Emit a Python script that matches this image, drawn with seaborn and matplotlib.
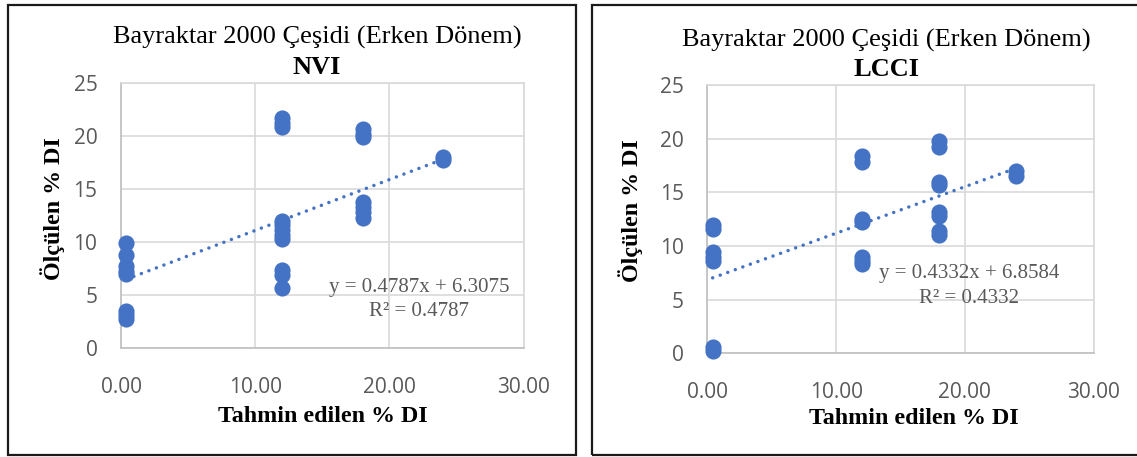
import matplotlib
matplotlib.use("Agg")
import matplotlib.pyplot as plt
import seaborn as sns
import pandas as pd
import numpy as np
from matplotlib.patches import Rectangle

# ---- data -------------------------------------------------------------
nvi_pred = [0.4] * 8 + [12] * 11 + [18] * 7 + [24] * 2
nvi_obs = [9.9, 8.8, 7.7, 7.3, 7.0, 3.5, 3.1, 2.8,
           21.7, 21.2, 20.8, 12.0, 11.6, 11.1, 10.7, 10.3, 7.4, 6.9, 5.7,
           20.6, 20.2, 19.9, 13.8, 13.3, 12.8, 12.3,
           18.0, 17.7]

lcci_pred = [0.4] * 7 + [12] * 7 + [18] * 8 + [24] * 2
lcci_obs = [12.0, 11.6, 9.4, 9.0, 8.6, 0.6, 0.2,
            18.4, 17.8, 12.5, 12.2, 9.0, 8.6, 8.3,
            19.8, 19.2, 16.0, 15.7, 13.2, 12.8, 11.4, 11.0,
            17.0, 16.5]

nvi_slope, nvi_intercept, nvi_r2 = 0.4787, 6.3075, 0.4787
lcci_slope, lcci_intercept, lcci_r2 = 0.4332, 6.8584, 0.4332

title_main = "Bayraktar 2000 Çeşidi (Erken Dönem)"
x_label = "Tahmin edilen % DI"
y_label = "Ölçülen % DI"
x_ticks = [0, 10, 20, 30]
y_ticks = [0, 5, 10, 15, 20, 25]

# ---- style ------------------------------------------------------------
sns.set_theme(style="white")
plt.rcParams["font.family"] = ["Liberation Serif", "DejaVu Serif"]

W, H = 1137, 457
BLUE = "#4472C4"
GRID = "#D9D9D9"
AXIS = "#BFBFBF"
TXT = "#595959"
SERIF = ["Liberation Serif", "DejaVu Serif"]
SANS = ["Open Sans", "DejaVu Sans"]

fig = plt.figure(figsize=(W / 100, H / 100), dpi=100)
fig.patch.set_facecolor("white")


def fx(px):
    return px / W


def fy(py):
    return 1 - py / H


def add_box(x0, y0, x1, y1):
    fig.patches.append(Rectangle((fx(x0), fy(y1)), fx(x1) - fx(x0), fy(y0) - fy(y1),
                                 transform=fig.transFigure, fill=False,
                                 edgecolor="#1a1a1a", linewidth=1.6, zorder=0))


def panel(rect_px, pred, obs, slope, intercept, r2, name, title_xy, xlabel_xy,
          ylabel_xy, eq_xy):
    left, top, right, bottom = rect_px
    ax = fig.add_axes([fx(left), fy(bottom), fx(right) - fx(left), fy(top) - fy(bottom)])
    df = pd.DataFrame({"pred": pred, "obs": obs})

    ax.set_xlim(0, 30)
    ax.set_ylim(0, 25)
    ax.set_xticks(x_ticks)
    ax.set_yticks(y_ticks)
    ax.set_xticklabels([f"{t:.2f}" for t in x_ticks])
    ax.set_yticklabels([str(t) for t in y_ticks])
    ax.grid(True, color=GRID, linewidth=1.2, zorder=0)
    ax.set_axisbelow(True)
    for s in ["top", "right"]:
        ax.spines[s].set_color(GRID)
        ax.spines[s].set_linewidth(1.2)
    for s in ["left", "bottom"]:
        ax.spines[s].set_color(AXIS)
        ax.spines[s].set_linewidth(1.2)
    ax.tick_params(length=0, labelsize=15, labelcolor=TXT, pad=0)
    ax.tick_params(axis="y", pad=17)
    ax.tick_params(axis="x", pad=21)
    for lab in ax.get_xticklabels() + ax.get_yticklabels():
        lab.set_family(SANS)

    sns.scatterplot(data=df, x="pred", y="obs", ax=ax, s=135, color=BLUE,
                    edgecolor=BLUE, linewidth=0, clip_on=False, zorder=3, legend=False)

    # linear trendline from the stated equation
    xs = np.array([min(pred), max(pred)])
    ax.plot(xs, slope * xs + intercept, color=BLUE, linewidth=2.5,
            linestyle=(0, (0.01, 2.3)), dash_capstyle="round", zorder=4)

    ax.set_xlabel("")
    ax.set_ylabel("")

    fig.text(fx(title_xy[0]), fy(title_xy[1]), title_main, ha="center", va="center",
             fontsize=19, family=SERIF, color="black")
    fig.text(fx(title_xy[0]), fy(title_xy[1] + 30), name, ha="center", va="center",
             fontsize=19, family=SERIF, fontweight="bold", color="black")
    fig.text(fx(xlabel_xy[0]), fy(xlabel_xy[1]), x_label, ha="center", va="center",
             fontsize=17.3, family=SERIF, fontweight="bold", color="black")
    fig.text(fx(ylabel_xy[0]), fy(ylabel_xy[1]), y_label, ha="center", va="center",
             rotation=90, fontsize=17.3, family=SERIF, fontweight="bold", color="black")

    ax.text(eq_xy[0], eq_xy[1], f"y = {slope:.4f}x + {intercept:.4f}", ha="center",
            va="center", fontsize=15, family=SERIF, color=TXT, zorder=5)
    ax.text(eq_xy[0], eq_xy[1] - 2.3, f"R² = {r2:.4f}", ha="center",
            va="center", fontsize=15, family=SERIF, color=TXT, zorder=5)
    return ax


add_box(8, 4.5, 575.5, 455)
add_box(591.5, 4.5, 1145, 455)

panel((121, 82.7, 523.6, 348.3), nvi_pred, nvi_obs, nvi_slope, nvi_intercept,
      nvi_r2, "NVI", (317, 37.7), (323, 416), (52.7, 209), (22.2, 5.74))
panel((707.5, 85, 1093.6, 353.3), lcci_pred, lcci_obs, lcci_slope, lcci_intercept,
      lcci_r2, "LCCI", (886, 40), (913.6, 419), (631, 211), (20.3, 7.39))

fig.savefig("out.png", dpi=100, facecolor="white")
